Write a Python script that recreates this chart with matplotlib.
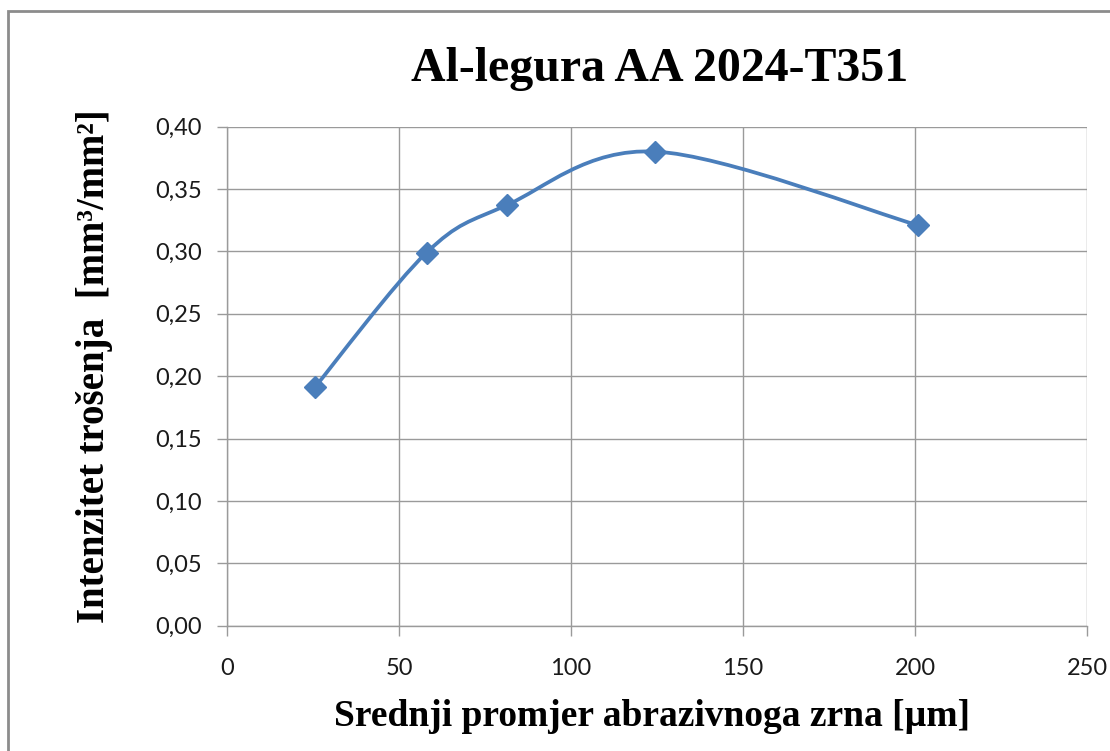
import numpy as np
import matplotlib
matplotlib.use("Agg")
import matplotlib.pyplot as plt
from matplotlib.path import Path
from matplotlib.patches import PathPatch, Rectangle

# Data
grain_size = [25.5, 58, 81.3, 124.5, 200.8]
wear_rate = [0.191, 0.299, 0.337, 0.380, 0.321]
x_ticks = [0, 50, 100, 150, 200, 250]
y_ticks = [0.00, 0.05, 0.10, 0.15, 0.20, 0.25, 0.30, 0.35, 0.40]
title = "Al-legura AA 2024-T351"
xlabel = "Srednji promjer abrazivnoga zrna [µm]"
ylabel = "Intenzitet trošenja  [mm³/mm²]"

W, H = 1110, 751
fig = plt.figure(figsize=(W / 100, H / 100), dpi=100)
fig.patch.set_facecolor("white")

L, R, T, B = 227, 1087, 126.6, 625.8
ax = fig.add_axes([L / W, 1 - B / H, (R - L) / W, (B - T) / H])

line_color = "#4A7EBB"
grid_color = "#9A9A9A"

ax.set_xlim(0, 250)
ax.set_ylim(0, 0.40)
ax.set_xticks(x_ticks)
ax.set_yticks(y_ticks)
ax.set_xticklabels([str(v) for v in x_ticks])
ax.set_yticklabels([f"{v:.2f}".replace(".", ",") for v in y_ticks])
ax.grid(True, color=grid_color, linewidth=1.0)
ax.set_axisbelow(True)
for s in ["top", "right"]:
    ax.spines[s].set_visible(False)
for s in ["left", "bottom"]:
    ax.spines[s].set_color(grid_color)
    ax.spines[s].set_linewidth(1.0)
ax.tick_params(axis="both", direction="out", length=7, width=1.0, color=grid_color,
               labelsize=17, labelcolor="#1a1a1a")
for lab in ax.get_xticklabels() + ax.get_yticklabels():
    lab.set_family(["Lato", "DejaVu Sans"])
ax.tick_params(axis="x", pad=16)
ax.tick_params(axis="y", pad=11)

# Excel-style smoothed line (cubic Bezier through the data points)
xs = np.array(grain_size, dtype=float)
ys = np.array(wear_rate, dtype=float)
sx, sy = (R - L) / 250.0, (B - T) / 0.40
P = np.column_stack([xs * sx, ys * sy])
n = len(P)
verts = [tuple(P[0])]
codes = [Path.MOVETO]
for i in range(n - 1):
    p0 = P[i - 1] if i > 0 else P[i]
    p1 = P[i]
    p2 = P[i + 1]
    p3 = P[i + 2] if i + 2 < n else P[i + 1]
    c1 = p1 + (p2 - p0) / 6.0
    c2 = p2 - (p3 - p1) / 6.0
    verts += [tuple(c1), tuple(c2), tuple(p2)]
    codes += [Path.CURVE4] * 3
verts = [(vx / sx, vy / sy) for vx, vy in verts]
path = Path(verts, codes)
ax.add_patch(PathPatch(path, facecolor="none", edgecolor=line_color, linewidth=2.7,
                       capstyle="round", joinstyle="round", zorder=3))
ax.plot(grain_size, wear_rate, linestyle="none", marker="D", markersize=11,
        color=line_color, zorder=4, clip_on=False)

# Titles and labels
fig.text((410 + 910) / 2 / W, 1 - 69 / H, title, ha="center", va="center",
         fontsize=34.5, fontweight="bold", family="Liberation Serif")
fig.text((335 + 970) / 2 / W, 1 - 717 / H, xlabel, ha="center", va="center",
         fontsize=27, fontweight="bold", family="Liberation Serif")
fig.text(95 / W, 1 - 366 / H, ylabel, ha="center", va="center", rotation=90,
         fontsize=28, fontweight="bold", family="Liberation Serif")

# Outer chart border
fig.patches.append(Rectangle((8 / W, -0.05), 1.2, 1 - 11 / H + 0.05,
                             transform=fig.transFigure, fill=False,
                             edgecolor="#8C8C8C", linewidth=2.0))

fig.savefig("out.png", dpi=100, facecolor="white")
